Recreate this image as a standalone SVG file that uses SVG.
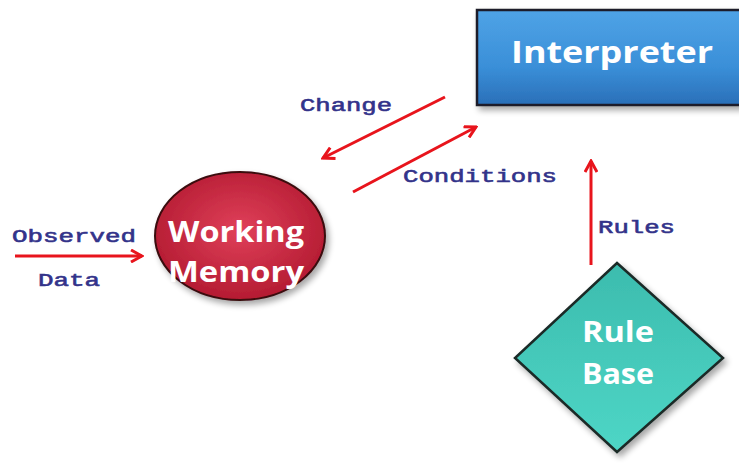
<svg xmlns="http://www.w3.org/2000/svg" width="739" height="463" viewBox="0 0 739 463">
<defs>
<linearGradient id="blueG" x1="0" y1="0" x2="0" y2="1">
<stop offset="0" stop-color="#4fa3e6"/>
<stop offset="0.6" stop-color="#3a8fd8"/>
<stop offset="1" stop-color="#2a6fb8"/>
</linearGradient>
<radialGradient id="redG" cx="0.5" cy="0.45" r="0.6">
<stop offset="0" stop-color="#e0405a"/>
<stop offset="1" stop-color="#b0182e"/>
</radialGradient>
<linearGradient id="tealG" x1="0" y1="0" x2="0" y2="1">
<stop offset="0" stop-color="#3cbcae"/>
<stop offset="1" stop-color="#4ed6c6"/>
</linearGradient>
<filter id="sh" x="-10%" y="-10%" width="130%" height="130%">
<feGaussianBlur in="SourceAlpha" stdDeviation="3"/>
<feOffset dx="3" dy="4" result="b"/>
<feComponentTransfer><feFuncA type="linear" slope="0.35"/></feComponentTransfer>
<feMerge><feMergeNode/><feMergeNode in="SourceGraphic"/></feMerge>
</filter>
<marker id="ah" viewBox="0 0 14 14" refX="12" refY="7" markerWidth="14" markerHeight="14" markerUnits="userSpaceOnUse" orient="auto">
<path d="M1,1 L12,7 L1,13" fill="none" stroke="#e8141c" stroke-width="3" stroke-linejoin="miter"/>
</marker>
</defs>
<style>
.conn{stroke:#e8141c;stroke-width:3;fill:none;marker-end:url(#ah)}
.lbl{font-family:"Liberation Mono","Courier New",monospace;font-size:19px;font-weight:normal;fill:#33338a;stroke:#33338a;stroke-width:0.6}
.nt{font-family:"Open Sans","DejaVu Sans",sans-serif;font-weight:bold;fill:#ffffff;text-anchor:middle}
</style>
<rect width="739" height="463" fill="#ffffff"/>
<g id="interpreter">
<rect x="477" y="10" width="270" height="95" fill="url(#blueG)" stroke="#1a1a2a" stroke-width="2.5" filter="url(#sh)"/>
<text class="nt" x="612" y="63" font-size="30" textLength="202" lengthAdjust="spacingAndGlyphs">Interpreter</text>
</g>
<g id="working-memory">
<ellipse cx="240" cy="236" rx="85" ry="64" fill="url(#redG)" stroke="#3a0a10" stroke-width="2" filter="url(#sh)"/>
<text class="nt" x="236" y="242" font-size="28" textLength="136" lengthAdjust="spacingAndGlyphs">Working</text>
<text class="nt" x="236" y="282" font-size="28" textLength="136" lengthAdjust="spacingAndGlyphs">Memory</text>
</g>
<g id="rule-base">
<polygon points="617,263 723,358 617,452 515,358" fill="url(#tealG)" stroke="#1a2a28" stroke-width="2.5" filter="url(#sh)"/>
<text class="nt" x="618" y="342" font-size="28" textLength="72" lengthAdjust="spacingAndGlyphs">Rule</text>
<text class="nt" x="618" y="384" font-size="28" textLength="72" lengthAdjust="spacingAndGlyphs">Base</text>
</g>
<g id="connectors">
<line class="conn" x1="15" y1="256" x2="142" y2="256"/>
<line class="conn" x1="445" y1="97" x2="323" y2="158"/>
<line class="conn" x1="353" y1="192" x2="476" y2="127"/>
<line class="conn" x1="591" y1="265" x2="591" y2="161"/>
</g>
<g id="labels">
<text class="lbl" x="12" y="242" textLength="124" lengthAdjust="spacingAndGlyphs">Observed</text>
<text class="lbl" x="38" y="286" textLength="62" lengthAdjust="spacingAndGlyphs">Data</text>
<text class="lbl" x="300" y="111" textLength="92" lengthAdjust="spacingAndGlyphs">Change</text>
<text class="lbl" x="403" y="182" textLength="154" lengthAdjust="spacingAndGlyphs">Conditions</text>
<text class="lbl" x="598" y="233" textLength="77" lengthAdjust="spacingAndGlyphs">Rules</text>
</g>
</svg>
